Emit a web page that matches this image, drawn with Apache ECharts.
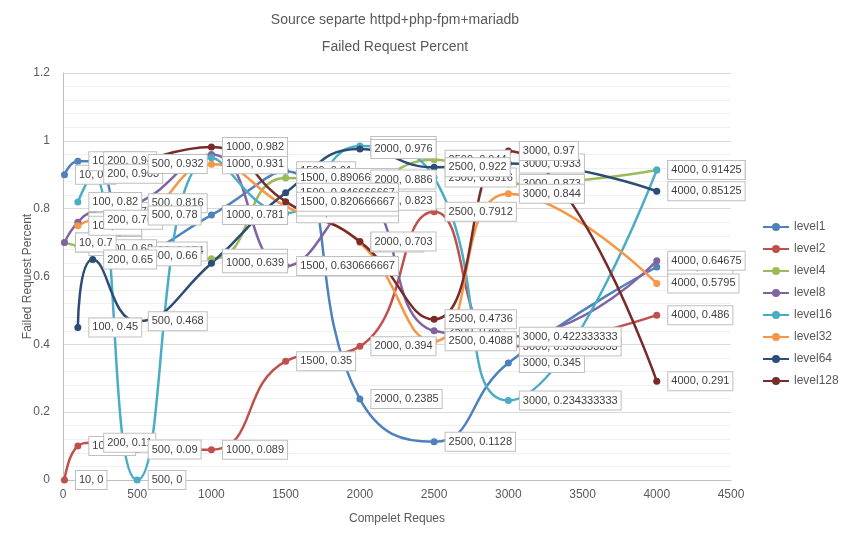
<!DOCTYPE html>
<html>
<head>
<meta charset="utf-8">
<script src="https://cdn.jsdelivr.net/npm/echarts@6/dist/echarts.min.js"></script>
<style>
html,body{margin:0;padding:0;background:#fff;}
#c{width:842px;height:533px;}
</style>
</head>
<body>
<div id="c"></div>
<script>
var xValues = [10, 100, 200, 500, 1000, 1500, 2000, 2500, 3000, 4000];
var seriesNames = ['level1', 'level2', 'level4', 'level8', 'level16', 'level32', 'level64', 'level128'];
var level1   = [0.9, 0.94, 0.94, 0.674, 0.781, 0.91, 0.2385, 0.1128, 0.345, 0.628];
var level2   = [0, 0.1, 0.11, 0.09, 0.089, 0.35, 0.394, 0.7912, 0.393333333, 0.486];
var level4   = [0.7, 0.69, 0.68, 0.66, 0.652, 0.890666667, 0.886, 0.944, 0.873, 0.91425];
var level8   = [0.7, 0.76, 0.79, 0.816, 0.96, 0.630666667, 0.823, 0.44, 0.422333333, 0.64675];
var level16  = [null, 0.82, 0.903, 0, 0.95, 0.786666667, 0.985, 0.8916, 0.234333333, 0.91425];
var level32  = [null, 0.75, 0.767, 0.78, 0.931, 0.806666667, 0.7, 0.4088, 0.844, 0.5795];
var level64  = [null, 0.45, 0.65, 0.468, 0.639, 0.846666667, 0.976, 0.922, 0.933, 0.85125];
var level128 = [null, null, null, 0.932, 0.982, 0.820666667, 0.703, 0.4736, 0.97, 0.291];
var yTicks = ['0', '0.2', '0.4', '0.6', '0.8', '1', '1.2'];
var xTicks = ['0', '500', '1000', '1500', '2000', '2500', '3000', '3500', '4000', '4500'];
var colors = ['#4F81BD', '#C0504D', '#9BBB59', '#8064A2', '#4BACC6', '#F79646', '#2C4D75', '#772C2A'];
var allValues = [level1, level2, level4, level8, level16, level32, level64, level128];

var FONT = 'Liberation Sans, Arial, sans-serif';
var series = seriesNames.map(function (name, i) {
  var pts = [];
  allValues[i].forEach(function (v, j) {
    if (v !== null) pts.push([xValues[j], v]);
  });
  return {
    name: name,
    type: 'line',
    data: pts,
    smooth: 0.5,
    symbol: 'circle',
    symbolSize: 7,
    showSymbol: true,
    lineStyle: { width: 2.5, color: colors[i] },
    itemStyle: { color: colors[i] },
    label: {
      show: true,
      position: 'right',
      distance: 8,
      formatter: function (p) { return p.value[0] + ', ' + p.value[1]; },
      color: '#404040',
      fontFamily: FONT,
      fontSize: 11,
      backgroundColor: '#ffffff',
      borderColor: '#BFBFBF',
      borderWidth: 1,
      padding: [4, 3, 3, 3]
    },
    emphasis: { disabled: true },
    animation: false
  };
});

var chart = echarts.init(document.getElementById('c'), null, { renderer: 'canvas' });
chart.setOption({
  backgroundColor: '#ffffff',
  animation: false,
  color: colors,
  title: {
    text: 'Source separte httpd+php-fpm+mariadb\nFailed Request Percent',
    left: 390,
    textAlign: 'center',
    top: 2,
    textStyle: { color: '#595959', fontFamily: FONT, fontSize: 14, fontWeight: 'normal', lineHeight: 27 }
  },
  legend: {
    orient: 'vertical',
    left: 762,
    top: 221,
    padding: 0,
    itemWidth: 26,
    itemHeight: 10,
    itemGap: 10,
    textStyle: { color: '#595959', fontFamily: FONT, fontSize: 12 },
    data: seriesNames
  },
  grid: { left: 63, right: 111, top: 73, bottom: 53, containLabel: false },
  xAxis: {
    type: 'value',
    min: 0, max: 4500, interval: 500,
    name: 'Compelet Reques',
    nameLocation: 'middle',
    nameGap: 33,
    nameMoveOverlap: false,
    nameTextStyle: { color: '#595959', fontFamily: FONT, fontSize: 12 },
    axisLine: { show: true, lineStyle: { color: '#BFBFBF' } },
    axisTick: { show: false },
    axisLabel: {
      color: '#595959', fontFamily: FONT, fontSize: 12, margin: 9,
      formatter: function (v) { var i = Math.round(v / 500); return xTicks[i] !== undefined ? xTicks[i] : String(v); }
    },
    splitLine: { show: false }
  },
  yAxis: {
    type: 'value',
    min: 0, max: 1.2, interval: 0.2,
    name: 'Failed Request Percent',
    nameLocation: 'middle',
    nameGap: 29,
    nameMoveOverlap: false,
    nameTextStyle: { color: '#595959', fontFamily: FONT, fontSize: 12 },
    axisLine: { show: true, lineStyle: { color: '#BFBFBF' } },
    axisTick: { show: false },
    axisLabel: {
      color: '#595959', fontFamily: FONT, fontSize: 12, margin: 13,
      formatter: function (v) { var i = Math.round(v / 0.2); return yTicks[i] !== undefined ? yTicks[i] : String(v); }
    },
    splitLine: { show: true, lineStyle: { color: '#D9D9D9', width: 1 } },
    minorTick: { show: false, splitNumber: 5 },
    minorSplitLine: { show: true, lineStyle: { color: '#F0F0F0', width: 1 } }
  },
  series: series
});
</script>
</body>
</html>
